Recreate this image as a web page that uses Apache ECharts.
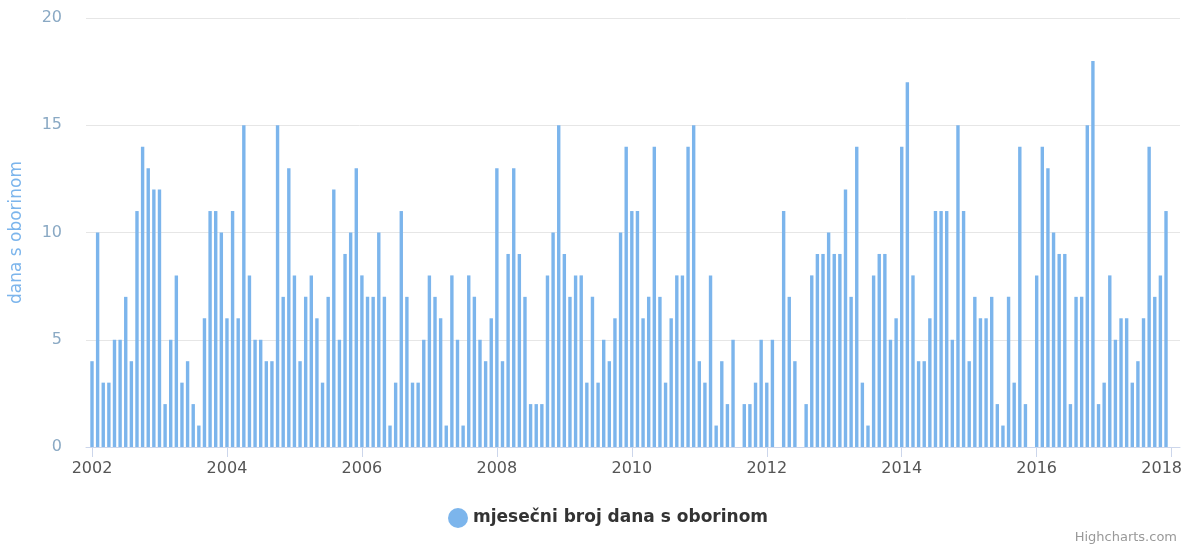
<!DOCTYPE html>
<html>
<head>
<meta charset="utf-8">
<script src="https://cdn.jsdelivr.net/npm/echarts@6/dist/echarts.min.js"></script>
<style>
  html, body { margin: 0; padding: 0; background: #fff; }
  #chart { width: 1185px; height: 549px; }
</style>
</head>
<body>
<div id="chart"></div>
<script>
// monthly number of days with precipitation, Jan..Dec
const d2002 = [4, 10, 3, 3, 5, 5, 7, 4, 11, 14, 13, 12];
const d2003 = [12, 2, 5, 8, 3, 4, 2, 1, 6, 11, 11, 10];
const d2004 = [6, 11, 6, 15, 8, 5, 5, 4, 4, 15, 7, 13];
const d2005 = [8, 4, 7, 8, 6, 3, 7, 12, 5, 9, 10, 13];
const d2006 = [8, 7, 7, 10, 7, 1, 3, 11, 7, 3, 3, 5];
const d2007 = [8, 7, 6, 1, 8, 5, 1, 8, 7, 5, 4, 6];
const d2008 = [13, 4, 9, 13, 9, 7, 2, 2, 2, 8, 10, 15];
const d2009 = [9, 7, 8, 8, 3, 7, 3, 5, 4, 6, 10, 14];
const d2010 = [11, 11, 6, 7, 14, 7, 3, 6, 8, 8, 14, 15];
const d2011 = [4, 3, 8, 1, 4, 2, 5, 0, 2, 2, 3, 5];
const d2012 = [3, 5, 0, 11, 7, 4, 0, 2, 8, 9, 9, 10];
const d2013 = [9, 9, 12, 7, 14, 3, 1, 8, 9, 9, 5, 6];
const d2014 = [14, 17, 8, 4, 4, 6, 11, 11, 11, 5, 15, 11];
const d2015 = [4, 7, 6, 6, 7, 2, 1, 7, 3, 14, 2, 0];
const d2016 = [8, 14, 13, 10, 9, 9, 2, 7, 7, 15, 18, 2];
const d2017 = [3, 8, 5, 6, 6, 3, 4, 6, 14, 7, 8, 11];

const years = [2002, 2003, 2004, 2005, 2006, 2007, 2008, 2009,
  2010, 2011, 2012, 2013, 2014, 2015, 2016, 2017];
const yearValues = [d2002, d2003, d2004, d2005, d2006, d2007, d2008, d2009,
  d2010, d2011, d2012, d2013, d2014, d2015, d2016, d2017];

const seriesName = 'mjesečni broj dana s oborinom';
const yTitle = 'dana s oborinom';

// bars sit at the start of each month, x in decimal years
const barData = [];
years.forEach((year, i) => {
  yearValues[i].forEach((v, m) => {
    barData.push([year + m / 12, v]);
  });
});

const font = 'DejaVu Sans, Verdana, sans-serif';
const chart = echarts.init(document.getElementById('chart'));

chart.setOption({
  backgroundColor: '#ffffff',
  animation: false,
  textStyle: { fontFamily: font },
  title: {
    text: 'Highcharts.com',
    right: 3,
    bottom: 0,
    textStyle: { fontSize: 13, fontWeight: 'normal', color: '#999999', fontFamily: font },
  },
  legend: {
    left: 443,
    top: 503,
    icon: 'circle',
    itemWidth: 20,
    itemHeight: 20,
    itemGap: 10,
    textStyle: { fontSize: 17, fontWeight: 'bold', color: '#333333', fontFamily: font },
    data: [seriesName],
  },
  grid: [
    { left: 80, right: 5, top: 18, bottom: 102 },
    { left: 92, right: 13, top: 18, bottom: 102 },
  ],
  xAxis: [
    {
      gridIndex: 0,
      type: 'value',
      min: 0,
      max: 1,
      axisLine: { show: true, lineStyle: { color: '#ccd6eb', width: 1 } },
      axisTick: { show: false },
      axisLabel: { show: false },
      splitLine: { show: false },
    },
    {
      gridIndex: 1,
      type: 'value',
      min: 2002,
      max: 2018,
      interval: 2,
      axisLine: { show: false },
      axisTick: { show: true, length: 10, lineStyle: { color: '#ccd6eb' } },
      axisLabel: {
        color: '#555555',
        fontSize: 16,
        margin: 14,
        formatter: (v) => (v === 2018 ? '{last|' + v + '}' : String(v)),
        rich: { last: { fontSize: 16, color: '#555555', padding: [0, 20, 0, 0] } },
      },
      splitLine: { show: false },
    },
  ],
  yAxis: [
    {
      gridIndex: 0,
      type: 'value',
      min: 0,
      max: 20,
      interval: 5,
      name: yTitle,
      nameLocation: 'middle',
      nameRotate: 90,
      nameGap: 61,
      nameTextStyle: { color: '#7cb5ec', fontSize: 17 },
      axisLine: { show: false },
      axisTick: { show: false },
      axisLabel: { color: '#8aa9c4', fontSize: 16, margin: 24 },
      splitLine: { lineStyle: { color: '#e6e6e6', width: 1 } },
    },
    {
      gridIndex: 1,
      type: 'value',
      min: 0,
      max: 20,
      show: false,
    },
  ],
  series: [
    {
      name: seriesName,
      type: 'bar',
      xAxisIndex: 1,
      yAxisIndex: 1,
      barWidth: 3.4,
      itemStyle: { color: '#7cb5ec' },
      data: barData,
    },
  ],
});
</script>
</body>
</html>
